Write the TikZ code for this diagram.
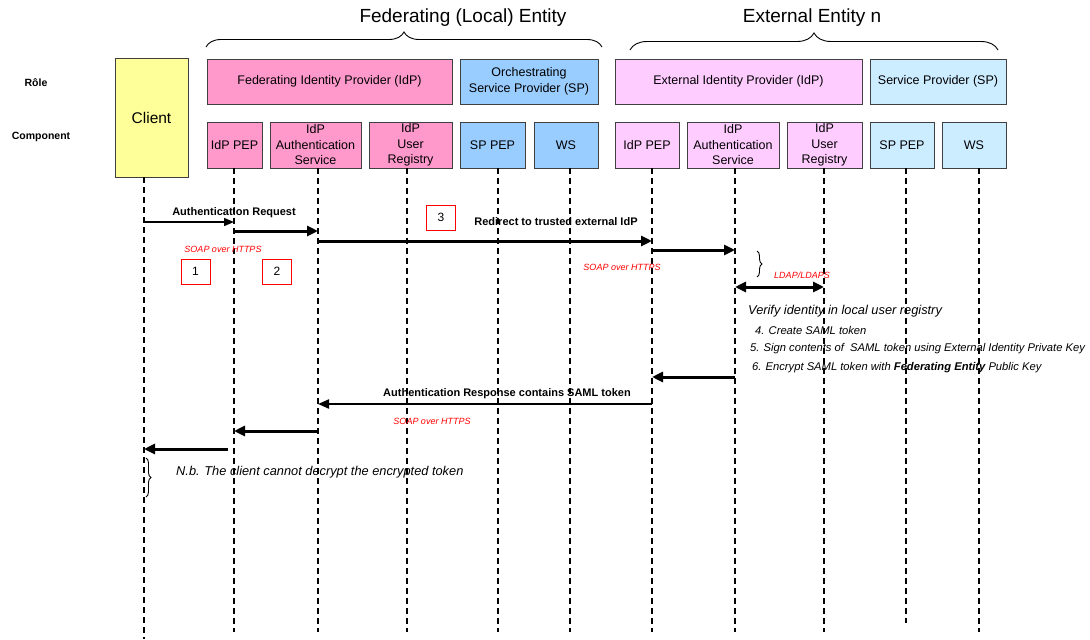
\documentclass[tikz,border=0pt]{standalone}
\usepackage{fontspec}
\setmainfont{Liberation Sans}
\usetikzlibrary{arrows.meta,decorations.pathreplacing}
\definecolor{fedpink}{HTML}{FF99CC}
\definecolor{orchblue}{HTML}{99CCFF}
\definecolor{extpink}{HTML}{FFCCFF}
\definecolor{extblue}{HTML}{CCECFF}
\definecolor{clientyellow}{HTML}{FFFF99}
\definecolor{boxline}{HTML}{404040}
\newcommand\fsz[2]{\fontsize{#1}{#2}\selectfont}
\begin{document}
\begin{tikzpicture}[x=1pt,y=-1pt,
  box/.style={draw=boxline, line width=0.9pt, inner sep=0pt, align=center, font=\fsz{12.5}{15.5}},
  rolebox/.style={box, minimum height=45},
  compbox/.style={box, minimum height=46},
  life/.style={line width=1.8pt, dash pattern=on 6pt off 4pt},
  lifethin/.style={line width=1.1pt, dash pattern=on 6pt off 4pt},
  arrthin/.style={line width=1.4pt, -{Triangle[length=10pt,width=8pt]}},
  arrmid/.style={line width=2pt, -{Triangle[length=11pt,width=9pt]}},
  arrthick/.style={line width=3pt, -{Triangle[length=11pt,width=10pt]}},
  arrboth/.style={line width=3pt, {Triangle[length=11pt,width=10pt]}-{Triangle[length=11pt,width=10pt]}},
  msg/.style={font=\bfseries\fsz{11}{13}, inner sep=0pt},
  proto/.style={font=\itshape\fsz{9}{11}, text=red, inner sep=0pt},
  note/.style={font=\itshape\fsz{12.8}{15}, inner sep=0pt, anchor=west},
  smallnote/.style={font=\itshape\fsz{11.2}{13}, inner sep=0pt, anchor=west},
  numbox/.style={draw=red, line width=1pt, minimum width=29, minimum height=25, inner sep=0pt, font=\fsz{12}{14}},
  brc/.style={decorate, decoration={brace, amplitude=#1}, line width=0.9pt},
  hdr/.style={font=\fsz{19}{22}, inner sep=0pt},
  rowlabel/.style={font=\bfseries\fsz{10.5}{12}, inner sep=0pt}
]
\path[use as bounding box, fill=white] (0,0) rectangle (1090,640);

% headers
\node[hdr] (fedtitle) at (463,18) {Federating (Local) Entity};
\node[hdr] (exttitle) at (812,18) {External Entity n};
\coordinate (fb1) at (206,47);
\coordinate (fb2) at (602,47);
\coordinate (eb1) at (630,50);
\coordinate (eb2) at (998,50);
\draw[brc=15pt] (fb1) -- (fb2);
\draw[brc=17pt] (eb1) -- (eb2);

\node[rowlabel] (rolelbl) at (36,83) {Rôle};
\node[rowlabel] (complbl) at (41,137) {Component};

% client
\node[box, fill=clientyellow, minimum width=73, minimum height=119, font=\fsz{15.5}{18}] (client) at (151.5,117.5) {Client};

% role boxes
\node[rolebox, fill=fedpink, minimum width=245] (fedidp) at (329.5,81.5) {Federating Identity Provider (IdP)};
\node[rolebox, fill=orchblue, minimum width=138] (orch) at (529,81.5) {Orchestrating\\Service Provider (SP)};
\node[rolebox, fill=extpink, minimum width=247] (extidp) at (738.5,81.5) {External Identity Provider (IdP)};
\node[rolebox, fill=extblue, minimum width=136] (extsp) at (938,81.5) {Service Provider (SP)};

% component boxes
\node[compbox, fill=fedpink, minimum width=55] (pep1) at (234.5,145) {IdP PEP};
\node[compbox, fill=fedpink, minimum width=91] (auth1) at (315.5,145) {IdP\\Authentication\\Service};
\node[compbox, fill=fedpink, minimum width=83] (reg1) at (410.5,145) {IdP\\User\\Registry};
\node[compbox, fill=orchblue, minimum width=65] (sppep1) at (492.5,145) {SP PEP};
\node[compbox, fill=orchblue, minimum width=64] (ws1) at (566,145) {WS};
\node[compbox, fill=extpink, minimum width=64] (pep2) at (647,145) {IdP PEP};
\node[compbox, fill=extpink, minimum width=92] (auth2) at (733,145) {IdP\\Authentication\\Service};
\node[compbox, fill=extpink, minimum width=75] (reg2) at (824.5,145) {IdP\\User\\Registry};
\node[compbox, fill=extblue, minimum width=64] (sppep2) at (902,145) {SP PEP};
\node[compbox, fill=extblue, minimum width=64] (ws2) at (974,145) {WS};

% lifeline x positions
\coordinate (Lc) at (144,0);
\coordinate (L1) at (234,0);
\coordinate (L2) at (318,0);
\coordinate (L3) at (407,0);
\coordinate (L4) at (498,0);
\coordinate (L5) at (570,0);
\coordinate (L6) at (652,0);
\coordinate (L7) at (735,0);
\coordinate (L8) at (824,0);
\coordinate (L9) at (906,0);
\coordinate (L10) at (979,0);

\draw[lifethin] (client.south -| Lc) -- (Lc |- 0,639);
\draw[life] (pep1.south -| L1) -- (L1 |- 0,632);
\draw[life] (auth1.south -| L2) -- (L2 |- 0,632);
\draw[life] (reg1.south -| L3) -- (L3 |- 0,632);
\draw[life] (sppep1.south -| L4) -- (L4 |- 0,632);
\draw[lifethin] (ws1.south -| L5) -- (L5 |- 0,632);
\draw[life] (pep2.south -| L6) -- (L6 |- 0,632);
\draw[life] (auth2.south -| L7) -- (L7 |- 0,632);
\draw[life] (reg2.south -| L8) -- (L8 |- 0,632);
\draw[lifethin] (sppep2.south -| L9) -- (L9 |- 0,623);
\draw[life] (ws2.south -| L10) -- (L10 |- 0,632);

% messages
\draw[arrthin] (Lc |- 0,222) -- (L1 |- 0,222);
\node[msg] (m1) at (234,213) {Authentication Request};
\draw[arrthick] (L1 |- 0,231) -- (L2 |- 0,231);
\draw[arrthick] (L2 |- 0,241) -- (L6 |- 0,241);
\node[msg] (m3) at (556,222) {Redirect to trusted external IdP};
\node[proto] (p1) at (223,249) {SOAP over HTTPS};
\node[numbox] (n1) at (195.5,271.5) {1};
\node[numbox] (n2) at (277,271.5) {2};
\node[numbox] (n3) at (441,217.5) {3};
\draw[arrthick] (L6 |- 0,250) -- (L7 |- 0,250);
\node[proto] (p2) at (622,267) {SOAP over HTTPS};
\coordinate (sb1) at (757,251);
\coordinate (sb2) at (757,277);
\draw[brc=5pt] (sb1) -- (sb2);
\node[proto] (p3) at (802,275) {LDAP/LDAPS};
\draw[arrboth] (L7 |- 0,287) -- (L8 |- 0,287);

\node[note] (v0) at (748,311) {Verify identity in local user registry};
\node[smallnote] (v4) at (755,330) {4. Create SAML token};
\node[smallnote] (v5) at (750,349) {5. Sign contents of \ SAML token using External Identity Private Key};
\node[smallnote] (v6) at (752,368) {6. Encrypt SAML token with \textbf{Federating Entity} Public Key};

\draw[arrthick] (L7 |- 0,377) -- (L6 |- 0,377);
\draw[arrmid] (L6 |- 0,404) -- (L2 |- 0,404);
\node[msg] (m7) at (507,394) {Authentication Response contains SAML token};
\node[proto] (p4) at (432,421) {SOAP over HTTPS};
\draw[arrthick] (L2 |- 0,431) -- (L1 |- 0,431);
\coordinate (rs) at (228,449);
\draw[arrthick] (rs) -- (Lc |- rs);

\coordinate (cb1) at (146,458);
\coordinate (cb2) at (146,497);
\draw[brc=5pt] (cb1) -- (cb2);
\node[note] (nb) at (176,472) {N.b. The client cannot decrypt the encrypted token};
\end{tikzpicture}
\end{document}
